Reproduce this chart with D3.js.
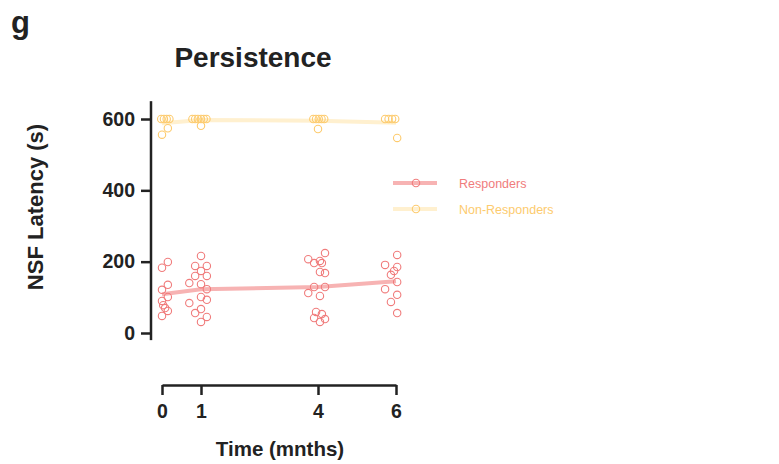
<!DOCTYPE html>
<html>
<head>
<meta charset="utf-8">
<script src="https://cdn.jsdelivr.net/npm/d3@7"></script>
<style>
  body { margin: 0; background: #fff; }
  text { font-family: "Liberation Sans", Arial, sans-serif; }
</style>
</head>
<body>
<svg id="chart" width="779" height="464"></svg>
<script>
// time points (months)
var times = [0, 1, 4, 6];
var xTicks = [0, 1, 4, 6];
var yTicks = [0, 200, 400, 600];

// NSF latency (s) per animal
var resp0 = [183, 199, 135, 121, 101, 90, 78, 70, 62, 48];
var resp1 = [216, 188, 188, 174, 160, 160, 140, 137, 123, 101, 93, 84, 67, 56, 45, 31];
var resp4 = [224, 207, 202, 196, 196, 171, 168, 129, 129, 112, 104, 59, 53, 42, 39, 31];
var resp6 = [219, 191, 185, 174, 163, 143, 123, 107, 87, 56];

var non0 = [600, 600, 600, 600, 574, 556];
var non1 = [600, 600, 600, 600, 600, 600, 581];
var non4 = [600, 600, 600, 600, 600, 572];
var non6 = [600, 600, 600, 600, 547];

// scatter offsets (months) for each point, as laid out in the figure
var respJit0 = [0, 0.15, 0.15, 0, 0.15, 0, 0.03, 0.08, 0.15, 0];
var respJit1 = [0, -0.15, 0.15, 0, -0.15, 0.15, -0.3, 0, 0.15, 0, 0.15, -0.3, 0, -0.15, 0.15, 0];
var respJit4 = [0.18, -0.25, 0.05, -0.1, 0.1, 0.05, 0.18, -0.1, 0.18, -0.25, 0.05, -0.05, 0.1, -0.1, 0.18, 0.05];
var respJit6 = [0.03, -0.28, 0.03, -0.05, -0.13, 0.03, -0.28, 0.03, -0.13, 0.03];

var nonJit0 = [-0.02, 0.05, 0.12, 0.19, 0.15, 0];
var nonJit1 = [-0.22, -0.15, -0.08, 0, 0.07, 0.14, 0];
var nonJit4 = [-0.12, -0.05, 0.02, 0.09, 0.16, 0];
var nonJit6 = [-0.28, -0.19, -0.1, -0.02, 0.03];

var groups = [
  {name: "Responders", vals: [resp0, resp1, resp4, resp6], jit: [respJit0, respJit1, respJit4, respJit6],
   dot: "#f07c7c", line: "#f7b3b3"},
  {name: "Non-Responders", vals: [non0, non1, non4, non6], jit: [nonJit0, nonJit1, nonJit4, nonJit6],
   dot: "#fdcb6e", line: "#fff0cf"}
];

var svg = d3.select("#chart");

var x = d3.scaleLinear().domain([0, 6]).range([162, 396]);
var y = d3.scaleLinear().domain([0, 600]).range([333, 119]);

// panel letter + title
svg.append("text").attr("x", 11).attr("y", 33).attr("font-size", 31).attr("font-weight", "bold")
  .attr("fill", "#222").text("g");
svg.append("text").attr("x", 253).attr("y", 67).attr("text-anchor", "middle").attr("font-size", 28)
  .attr("font-weight", "bold").attr("fill", "#222").text("Persistence");

// y axis
var yAxis = svg.append("g").attr("transform", "translate(151,0)")
  .call(d3.axisLeft(y).tickValues(yTicks).tickSize(10).tickPadding(6).tickSizeOuter(0));
yAxis.select(".domain").attr("d", "M0," + y(650) + "V" + y(-20));
yAxis.selectAll("path, line").attr("stroke", "#222").attr("stroke-width", 2.5);
yAxis.selectAll("text").attr("font-size", 19.5).attr("font-weight", "bold").attr("fill", "#222")
  .attr("font-family", "Liberation Sans, Arial, sans-serif");

// x axis (offset below)
var xAxis = svg.append("g").attr("transform", "translate(0,385)")
  .call(d3.axisBottom(x).tickValues(xTicks).tickFormat(d3.format("d"))
    .tickSize(10).tickPadding(9).tickSizeOuter(0));
xAxis.selectAll("path, line").attr("stroke", "#222").attr("stroke-width", 2.5);
xAxis.selectAll("text").attr("font-size", 19.5).attr("font-weight", "bold").attr("fill", "#222")
  .attr("font-family", "Liberation Sans, Arial, sans-serif");

// axis titles
svg.append("text").attr("x", 280).attr("y", 456).attr("text-anchor", "middle").attr("font-size", 20.5)
  .attr("font-weight", "bold").attr("fill", "#222").text("Time (mnths)");
svg.append("text").attr("transform", "translate(43,207) rotate(-90)").attr("text-anchor", "middle")
  .attr("font-size", 22).attr("font-weight", "bold").attr("fill", "#222").text("NSF Latency (s)");

var lineGen = d3.line().x(d => x(d[0])).y(d => y(d[1]));

groups.forEach(function(g) {
  var means = times.map((t, i) => [t, d3.mean(g.vals[i])]);
  svg.append("path").datum(means).attr("d", lineGen).attr("fill", "none")
    .attr("stroke", g.line).attr("stroke-width", 4);

  var pts = [];
  times.forEach(function(t, i) {
    g.vals[i].forEach(function(v, j) { pts.push({t: t + g.jit[i][j], v: v}); });
  });
  svg.append("g").selectAll("circle").data(pts).join("circle")
    .attr("cx", d => x(d.t)).attr("cy", d => y(d.v)).attr("r", 3.7)
    .attr("fill", "none").attr("stroke", g.dot).attr("stroke-width", 1.1);
});

// legend
var legend = svg.append("g").selectAll("g").data(groups).join("g")
  .attr("transform", (d, i) => "translate(393," + (183 + i * 26) + ")");
legend.append("line").attr("x1", 0).attr("x2", 44).attr("stroke", d => d.line).attr("stroke-width", 4);
legend.append("circle").attr("cx", 23).attr("r", 3.7).attr("fill", "none")
  .attr("stroke", d => d.dot).attr("stroke-width", 1.1);
legend.append("text").attr("x", 66).attr("y", 4.5).attr("font-size", 12.5)
  .attr("fill", d => d.dot).text(d => d.name);
</script>
</body>
</html>
